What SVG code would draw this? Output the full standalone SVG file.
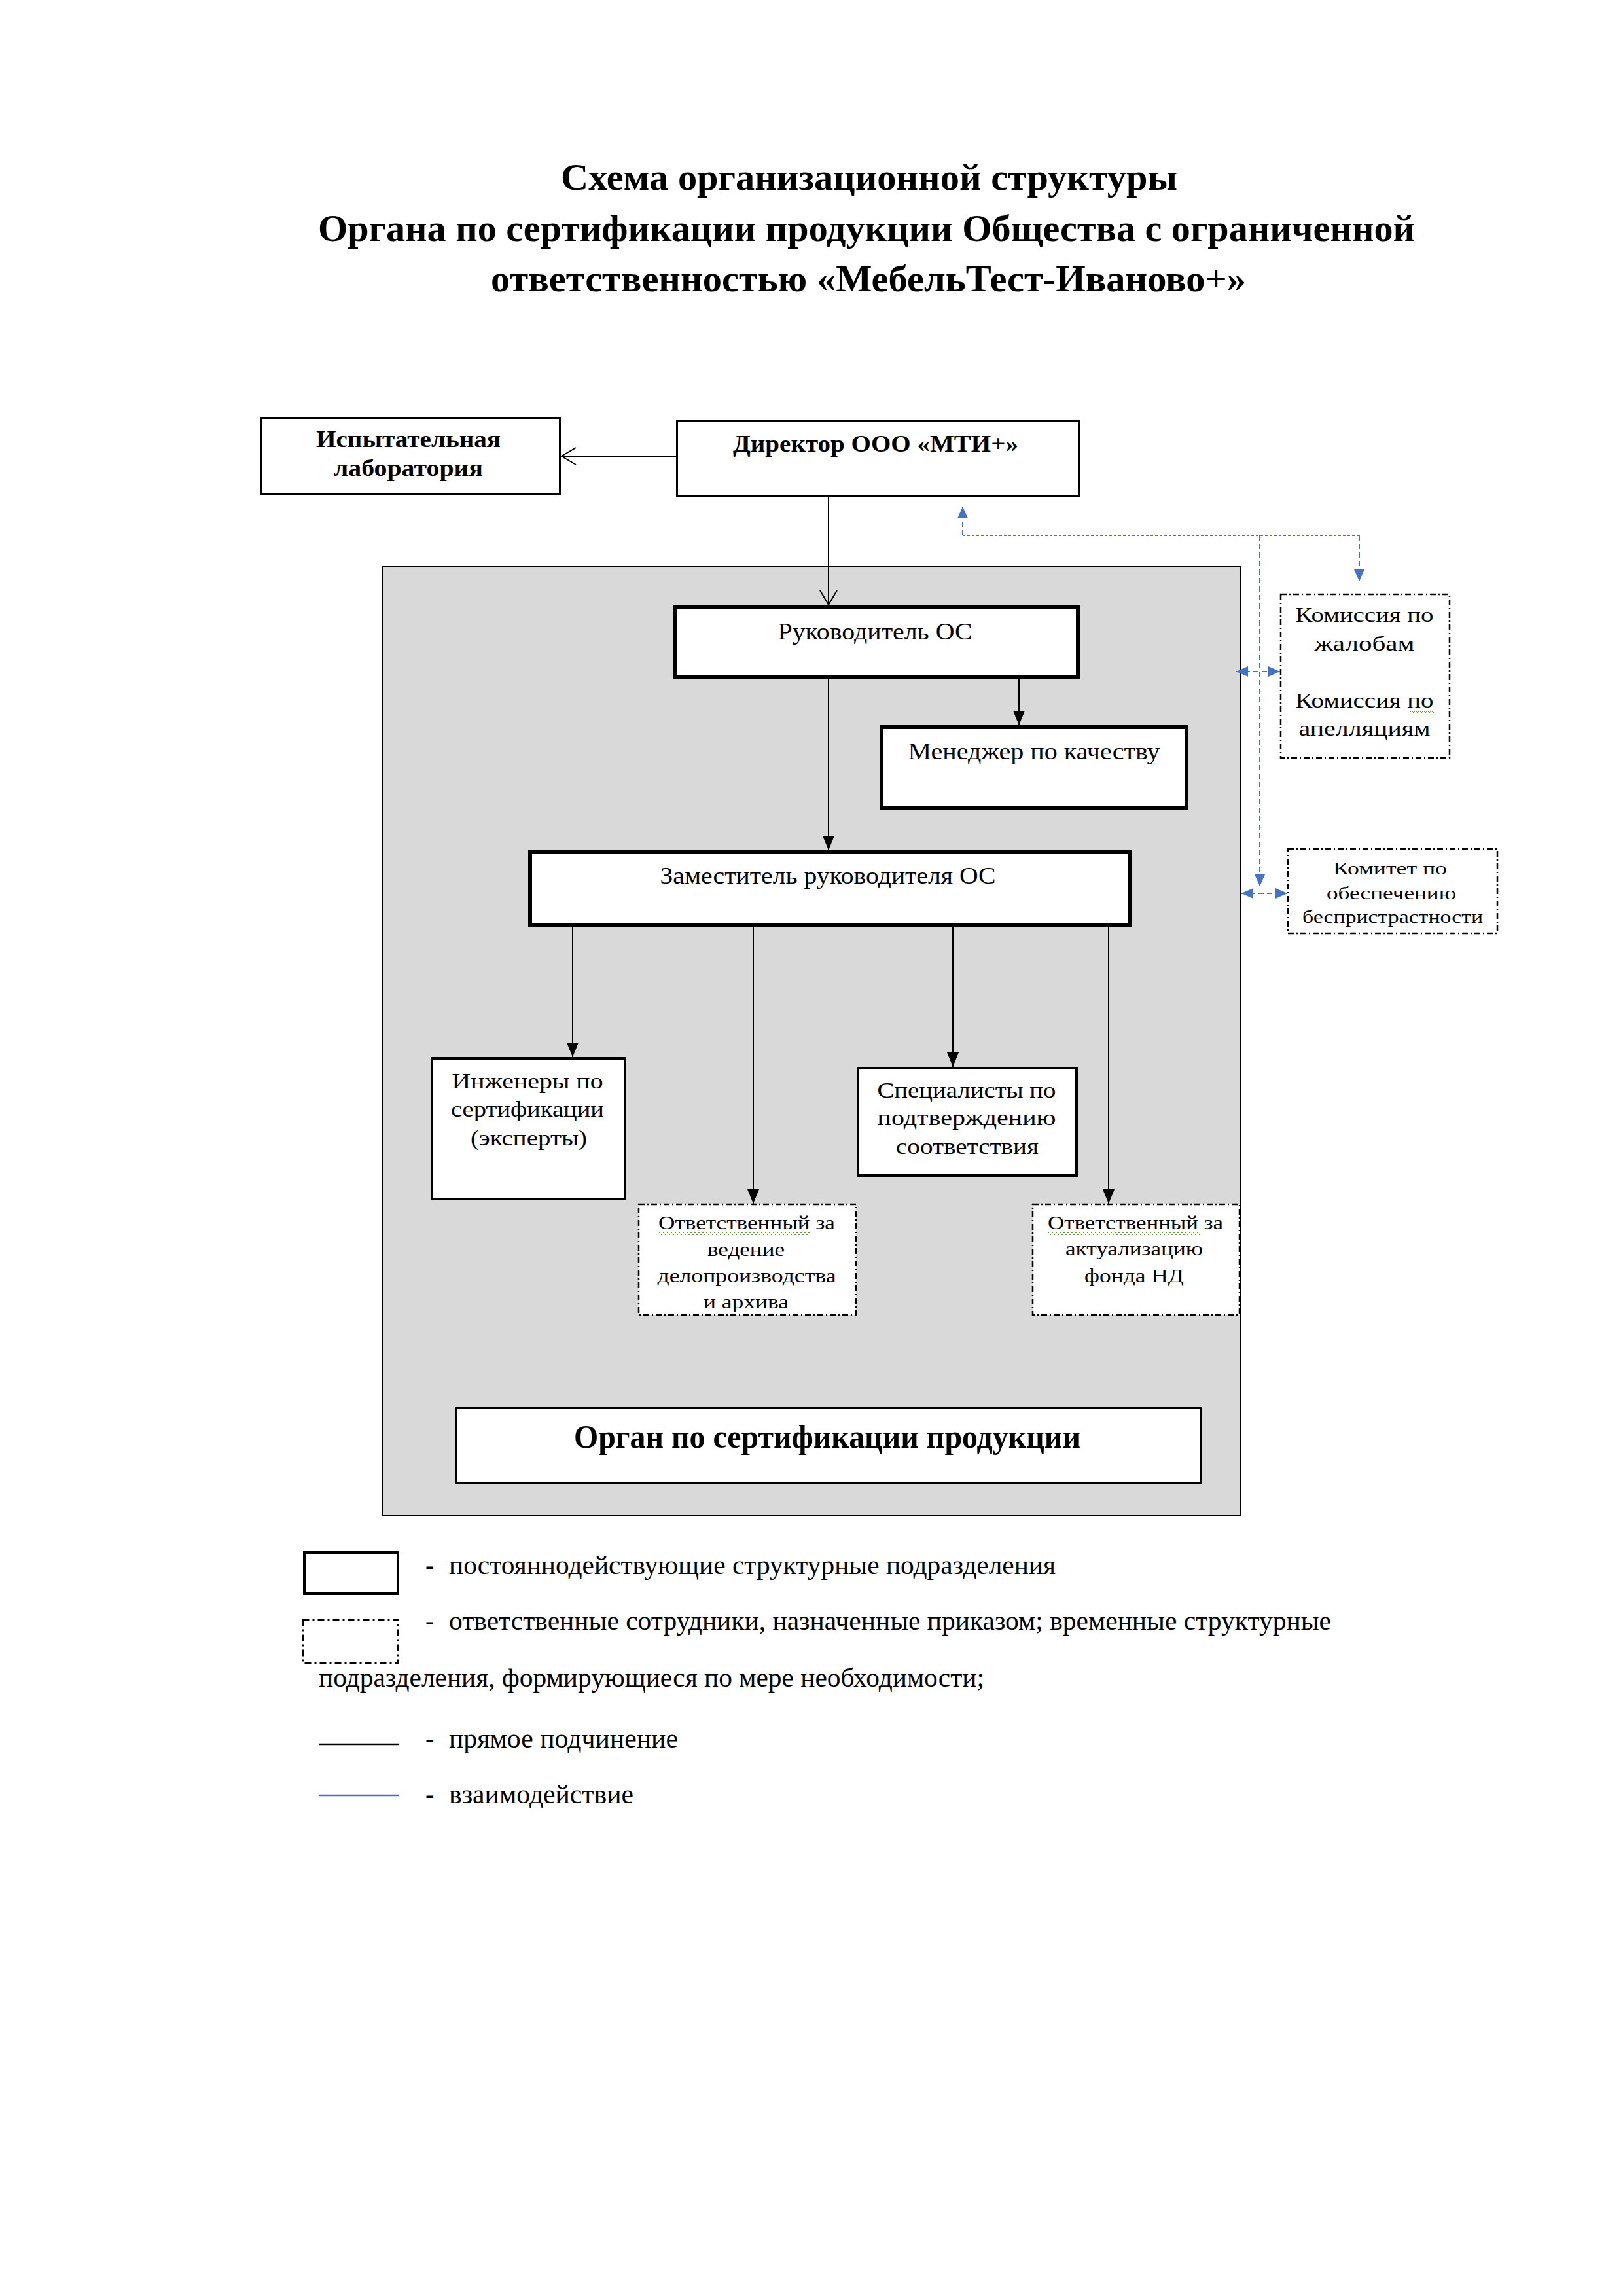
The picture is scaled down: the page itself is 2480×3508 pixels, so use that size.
<svg xmlns="http://www.w3.org/2000/svg" width="2480" height="3508" viewBox="0 0 2480 3508">
<style>
text{font-family:"Liberation Serif","Times New Roman",serif;fill:#000}
.t{font-size:58px;font-weight:bold;text-anchor:middle}
.b{font-weight:bold}
.c{text-anchor:middle}
.n35{font-size:35px}
.n34{font-size:34px}
.n31{font-size:31px}
.n28{font-size:28px}
.n29{font-size:29px}
.lg{font-size:40px}
.box{fill:#fff;stroke:#000}
.dd{fill:#fff;stroke:#000;stroke-width:2.5;stroke-dasharray:9 4 2 4}
.ln{stroke:#000;stroke-width:2;fill:none}
.bl{stroke:#4472C4;stroke-width:2;fill:none}
.bd{stroke-dasharray:8 5}
.bdot{stroke-dasharray:4 3}
</style>
<defs>
<marker id="af" markerUnits="userSpaceOnUse" markerWidth="22" markerHeight="18" viewBox="0 0 22 18" refX="22" refY="9" orient="auto"><path d="M0,0 L22,9 L0,18 z" fill="#000"/></marker>
<marker id="ao" markerUnits="userSpaceOnUse" markerWidth="26" markerHeight="28" viewBox="0 0 26 28" refX="23" refY="14" orient="auto"><path d="M1,1 L23,14 L1,27" fill="none" stroke="#000" stroke-width="2"/></marker>
<marker id="ab" markerUnits="userSpaceOnUse" markerWidth="18" markerHeight="16" viewBox="0 0 18 16" refX="18" refY="8" orient="auto-start-reverse"><path d="M0,0 L18,8 L0,16 z" fill="#4472C4"/></marker>
<pattern id="wave" width="6" height="5" patternUnits="userSpaceOnUse"><path d="M0,4 L3,1 L6,4" fill="none" stroke="#5b9b3a" stroke-width="1"/></pattern>
</defs>
<rect width="2480" height="3508" fill="#fff"/>

<g id="title">
<text class="t" x="1328" y="290" textLength="942" lengthAdjust="spacingAndGlyphs">Схема организационной структуры</text>
<text class="t" x="1324" y="368" textLength="1676" lengthAdjust="spacingAndGlyphs">Органа по сертификации продукции Общества с ограниченной</text>
<text class="t" x="1327" y="445" textLength="1154" lengthAdjust="spacingAndGlyphs">ответственностью «МебельТест-Иваново+»</text>
</g>

<g id="os-container">
<rect x="584" y="866" width="1312" height="1450" fill="#D9D9D9" stroke="#000" stroke-width="2"/>
</g>

<g id="lab">
<rect class="box" x="398.5" y="638.5" width="457" height="117" stroke-width="3"/>
<text class="b c n35" x="624" y="683" textLength="282" lengthAdjust="spacingAndGlyphs">Испытательная</text>
<text class="b c n35" x="624" y="727" textLength="228" lengthAdjust="spacingAndGlyphs">лаборатория</text>
</g>

<g id="director">
<rect class="box" x="1034.5" y="643.5" width="614" height="114" stroke-width="3"/>
<text class="b c n35" x="1338" y="690" textLength="436" lengthAdjust="spacingAndGlyphs">Директор ООО «МТИ+»</text>
</g>

<g id="head">
<rect class="box" x="1032" y="928" width="615" height="106" stroke-width="6"/>
<text class="c n35" x="1337" y="977" textLength="297" lengthAdjust="spacingAndGlyphs">Руководитель ОС</text>
</g>

<g id="quality-manager">
<rect class="box" x="1347" y="1111" width="466" height="124" stroke-width="6"/>
<text class="c n35" x="1580" y="1160" textLength="385" lengthAdjust="spacingAndGlyphs">Менеджер по качеству</text>
</g>

<g id="deputy">
<rect class="box" x="810" y="1302" width="916" height="111" stroke-width="6"/>
<text class="c n35" x="1265" y="1350" textLength="513" lengthAdjust="spacingAndGlyphs">Заместитель руководителя ОС</text>
</g>

<g id="engineers">
<rect class="box" x="660" y="1617" width="295" height="215" stroke-width="4"/>
<text class="c n34" x="806" y="1663" textLength="231" lengthAdjust="spacingAndGlyphs">Инженеры по</text>
<text class="c n34" x="806" y="1706" textLength="234" lengthAdjust="spacingAndGlyphs">сертификации</text>
<text class="c n34" x="808" y="1750" textLength="178" lengthAdjust="spacingAndGlyphs">(эксперты)</text>
</g>

<g id="specialists">
<rect class="box" x="1311" y="1632" width="334" height="164" stroke-width="4"/>
<text class="c n34" x="1477" y="1677" textLength="273" lengthAdjust="spacingAndGlyphs">Специалисты по</text>
<text class="c n34" x="1477" y="1719" textLength="273" lengthAdjust="spacingAndGlyphs">подтверждению</text>
<text class="c n34" x="1478" y="1763" textLength="218" lengthAdjust="spacingAndGlyphs">соответствия</text>
</g>

<g id="resp-archive">
<rect class="dd" x="976" y="1840" width="332" height="169"/>
<rect x="1006" y="1882" width="232" height="5" fill="url(#wave)"/>
<text class="c n29" x="1141" y="1878" textLength="270" lengthAdjust="spacingAndGlyphs">Ответственный за</text>
<text class="c n29" x="1140" y="1919" textLength="118" lengthAdjust="spacingAndGlyphs">ведение</text>
<text class="c n29" x="1141" y="1959" textLength="273" lengthAdjust="spacingAndGlyphs">делопроизводства</text>
<text class="c n29" x="1140" y="1999" textLength="130" lengthAdjust="spacingAndGlyphs">и архива</text>
</g>

<g id="resp-nd">
<rect class="dd" x="1578" y="1840" width="316" height="169"/>
<rect x="1601" y="1882" width="232" height="5" fill="url(#wave)"/>
<text class="c n29" x="1735" y="1878" textLength="268" lengthAdjust="spacingAndGlyphs">Ответственный за</text>
<text class="c n29" x="1733" y="1918" textLength="210" lengthAdjust="spacingAndGlyphs">актуализацию</text>
<text class="c n29" x="1733" y="1959" textLength="152" lengthAdjust="spacingAndGlyphs">фонда НД</text>
</g>

<g id="os-label">
<rect class="box" x="697.5" y="2151.5" width="1138" height="114" stroke-width="3"/>
<text class="b c" style="font-size:50px" x="1264" y="2212" textLength="774" lengthAdjust="spacingAndGlyphs">Орган по сертификации продукции</text>
</g>

<g id="commissions">
<rect class="dd" x="1957" y="908" width="258" height="250"/>
<text class="c n31" x="2085" y="950" textLength="211" lengthAdjust="spacingAndGlyphs">Комиссия по</text>
<text class="c n31" x="2085" y="994" textLength="153" lengthAdjust="spacingAndGlyphs">жалобам</text>
<text class="c n31" x="2085" y="1081" textLength="211" lengthAdjust="spacingAndGlyphs">Комиссия по</text>
<rect x="2154" y="1084" width="37" height="5" fill="url(#wave)"/>
<text class="c n31" x="2085" y="1124" textLength="201" lengthAdjust="spacingAndGlyphs">апелляциям</text>
</g>

<g id="impartiality-committee">
<rect class="dd" x="1968" y="1297" width="320" height="129"/>
<text class="c n28" x="2124" y="1336" textLength="174" lengthAdjust="spacingAndGlyphs">Комитет по</text>
<text class="c n28" x="2126" y="1374" textLength="198" lengthAdjust="spacingAndGlyphs">обеспечению</text>
<text class="c n28" x="2128" y="1410" textLength="276" lengthAdjust="spacingAndGlyphs">беспристрастности</text>
</g>

<g id="connectors">
<line class="ln" x1="1033" y1="697" x2="858" y2="697" marker-end="url(#ao)"/>
<line class="ln" x1="1266" y1="759" x2="1266" y2="924" marker-end="url(#ao)"/>
<line class="ln" x1="1557" y1="1037" x2="1557" y2="1108" marker-end="url(#af)"/>
<line class="ln" x1="1266" y1="1037" x2="1266" y2="1299" marker-end="url(#af)"/>
<line class="ln" x1="875" y1="1416" x2="875" y2="1615" marker-end="url(#af)"/>
<line class="ln" x1="1151" y1="1416" x2="1151" y2="1839" marker-end="url(#af)"/>
<line class="ln" x1="1456" y1="1416" x2="1456" y2="1630" marker-end="url(#af)"/>
<line class="ln" x1="1694" y1="1416" x2="1694" y2="1839" marker-end="url(#af)"/>
<path class="bl bdot" d="M1471,818 H2077"/>
<path class="bl bd" d="M1471,818 V774" marker-end="url(#ab)"/>
<path class="bl bd" d="M2077,818 V888" marker-end="url(#ab)"/>
<path class="bl bd" d="M1925,818 V1354" marker-end="url(#ab)"/>
<path class="bl bd" d="M1889,1026 H1956" marker-start="url(#ab)" marker-end="url(#ab)"/>
<path class="bl bd" d="M1897,1365 H1967" marker-start="url(#ab)" marker-end="url(#ab)"/>
</g>

<g id="legend">
<rect class="box" x="465" y="2372" width="143" height="63" stroke-width="4"/>
<text class="lg b" x="650" y="2405">-</text>
<text class="lg" x="686" y="2405" textLength="927" lengthAdjust="spacingAndGlyphs">постояннодействующие структурные подразделения</text>
<rect x="462.5" y="2474.5" width="146" height="66" fill="#fff" stroke="#000" stroke-width="3" stroke-dasharray="10 5 3 5"/>
<text class="lg b" x="650" y="2490">-</text>
<text class="lg" x="686" y="2490" textLength="1348" lengthAdjust="spacingAndGlyphs">ответственные сотрудники, назначенные приказом; временные структурные</text>
<text class="lg" x="487" y="2577" textLength="1017" lengthAdjust="spacingAndGlyphs">подразделения, формирующиеся по мере необходимости;</text>
<line x1="487" y1="2665" x2="610" y2="2665" stroke="#000" stroke-width="2.5"/>
<text class="lg b" x="650" y="2670">-</text>
<text class="lg" x="686" y="2670" textLength="350" lengthAdjust="spacingAndGlyphs">прямое подчинение</text>
<line x1="487" y1="2743" x2="610" y2="2743" stroke="#4472C4" stroke-width="2.5"/>
<text class="lg b" x="650" y="2755">-</text>
<text class="lg" x="686" y="2755" textLength="282" lengthAdjust="spacingAndGlyphs">взаимодействие</text>
</g>
</svg>
